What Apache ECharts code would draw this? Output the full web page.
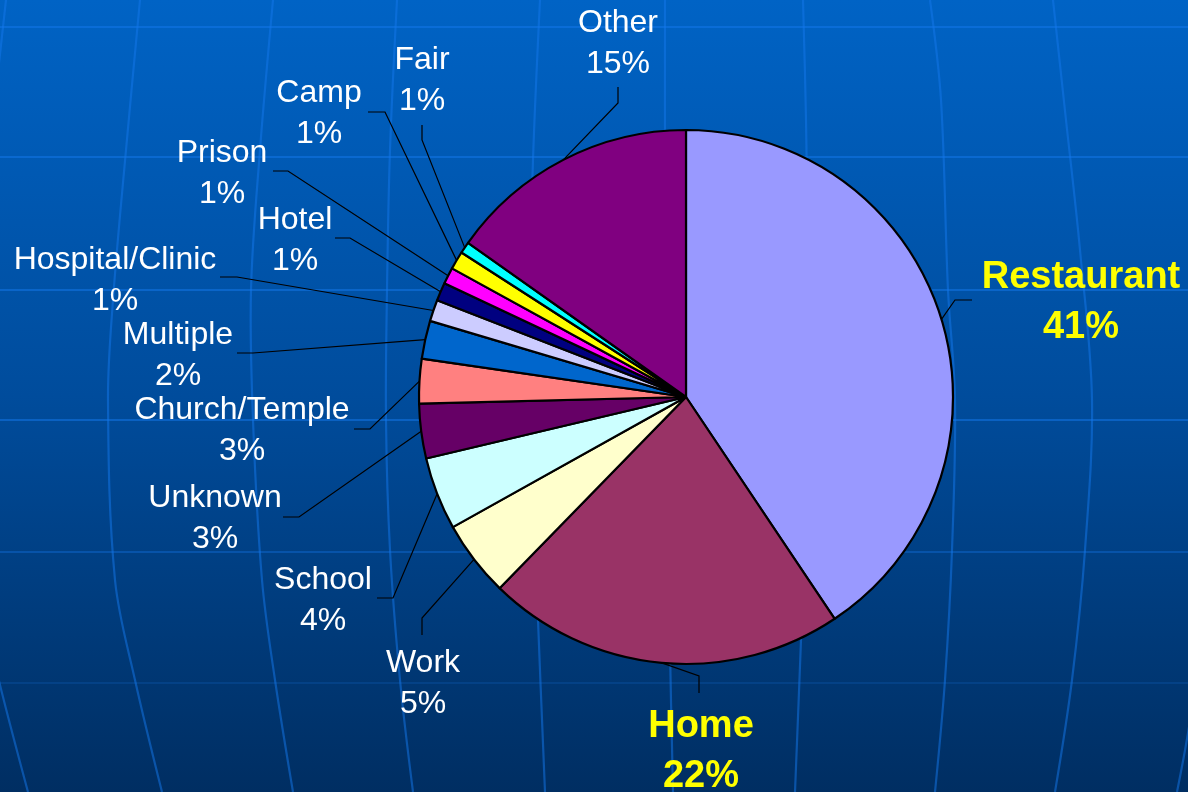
<!DOCTYPE html>
<html>
<head>
<meta charset="utf-8">
<script src="https://cdn.jsdelivr.net/npm/echarts@6/dist/echarts.min.js"></script>
<style>
html,body{margin:0;padding:0;background:#004c9c;}
#chart{width:1188px;height:792px;}
</style>
</head>
<body>
<div id="chart"></div>
<script>
// ---- data ----
const categories = ['Restaurant','Home','Work','School','Unknown','Church/Temple','Multiple','Hospital/Clinic','Hotel','Prison','Camp','Fair','Other'];
const shares = [40.6, 21.7, 4.6, 4.4, 3.3, 2.7, 2.3, 1.3, 1.1, 1.0, 1.1, 0.7, 15.2];
const sliceColors = ['#9999FF','#993366','#FFFFCC','#CCFFFF','#660066','#FF8080','#0066CC','#CCCCFF','#000080','#FF00FF','#FFFF00','#00FFFF','#800080'];
const highlighted = ['Restaurant','Home'];

// ---- label placement (label centre, leader bend, leader end) ----
const labelPlacement = {
  'Restaurant':      {label:[1081,303], bend:[955,300], end:[972,300]},
  'Home':            {label:[701,752],  bend:[699,676], end:[699,693]},
  'Work':            {label:[423,684],  bend:[422,618], end:[422,635]},
  'School':          {label:[323,601],  bend:[393,598], end:[377,598]},
  'Unknown':         {label:[215,519],  bend:[299,517], end:[283,517]},
  'Church/Temple':   {label:[242,431],  bend:[370,429], end:[354,429]},
  'Multiple':        {label:[178,356],  bend:[253,353], end:[237,353]},
  'Hospital/Clinic': {label:[115,281],  bend:[237,277], end:[220,277]},
  'Hotel':           {label:[295,241],  bend:[350,238], end:[335,238]},
  'Prison':          {label:[222,174],  bend:[288,171], end:[273,171]},
  'Camp':            {label:[319,114],  bend:[385,112], end:[368,112]},
  'Fair':            {label:[422,81],   bend:[422,140], end:[422,125]},
  'Other':           {label:[618,44],   bend:[618,103], end:[618,87]}
};

const W = 1188, H = 792;
const pieCenter = [686, 397];
const pieRadius = 267;

// ---- background decoration (globe grid) ----
const gridColor = 'rgba(20,120,235,0.5)';
const horizontals = [[27,1],[157,1],[290,1],[420,1],[552,0.7],[683,0.35]];
const meridians = [
  [[6,0],[-4,90]],
  [[-12,630],[0,685],[28,792]],
  [[140,0],[126,150],[113,300],[108,400],[115,580],[135,680],[162,792]],
  [[273,0],[260,150],[251,290],[253,420],[262,580],[275,680],[293,792]],
  [[397,0],[390,150],[387,290],[386,420],[390,550],[400,680],[413,792]],
  [[540,0],[533,160],[530,300],[532,450],[538,620],[545,792]],
  [[665,0],[665,150],[666,400],[670,650],[673,792]],
  [[803,0],[806,120],[808,300],[806,500],[801,640],[795,792]],
  [[930,0],[941,100],[948,290],[955,400],[952,550],[945,680],[935,792]],
  [[1053,0],[1066,120],[1080,250],[1092,400],[1085,550],[1072,680],[1055,792]],
  [[1225,400],[1205,620],[1188,733],[1177,792]]
];
const graphics = [];
horizontals.forEach(function(h){
  graphics.push({type:'line', silent:true, z:0, shape:{x1:0,y1:h[0],x2:W,y2:h[0]},
    style:{stroke:gridColor, lineWidth:2.2, opacity:h[1]}});
});
meridians.forEach(function(pts){
  graphics.push({type:'polyline', silent:true, z:0, shape:{points:pts, smooth:0.35},
    style:{stroke:gridColor, lineWidth:2.2, fill:null}});
});

// ---- build series data ----
const seriesData = categories.map(function(name, i){
  const item = {name:name, value:shares[i], itemStyle:{color:sliceColors[i]}};
  if (highlighted.indexOf(name) >= 0) {
    item.label = {color:'#FFFF00', fontWeight:'bold', fontSize:38, lineHeight:50};
  }
  return item;
});

// fallback: compute edge point at slice mid-angle from the data
const total = shares.reduce(function(a,b){return a+b;},0);
function edgePoint(idx){
  let cum = 0;
  for (let i=0;i<idx;i++) cum += shares[i];
  const mid = (cum + shares[idx]/2)/total*2*Math.PI;
  return [pieCenter[0] + pieRadius*Math.sin(mid), pieCenter[1] - pieRadius*Math.cos(mid)];
}

const chart = echarts.init(document.getElementById('chart'), null, {renderer:'canvas', width:W, height:H});
chart.setOption({
  animation:false,
  backgroundColor:{type:'linear', x:0, y:0, x2:0, y2:1,
    colorStops:[{offset:0,color:'#0063C5'},{offset:0.5,color:'#004C9C'},{offset:1,color:'#002E62'}]},
  graphic:{elements:graphics},
  series:[{
    type:'pie',
    z:5,
    center:pieCenter,
    radius:pieRadius,
    startAngle:90,
    clockwise:true,
    avoidLabelOverlap:false,
    percentPrecision:0,
    data:seriesData,
    itemStyle:{borderColor:'#000', borderWidth:2.2},
    emphasis:{disabled:true},
    label:{
      show:true,
      position:'outside',
      formatter:'{b}\n{d}%',
      color:'#FFFFFF',
      fontFamily:'Liberation Sans, Arial, sans-serif',
      fontSize:32,
      lineHeight:41,
      align:'center'
    },
    labelLine:{show:true, length:10, length2:10, smooth:false,
      lineStyle:{color:'#000', width:1.2}},
    labelLayout:function(params){
      const name = categories[params.dataIndex];
      const p = labelPlacement[name];
      let start = edgePoint(params.dataIndex);
      if (params.labelLinePoints && params.labelLinePoints[0]) {
        start = [params.labelLinePoints[0][0], params.labelLinePoints[0][1]];
      }
      return {
        x:p.label[0], y:p.label[1],
        align:'center', verticalAlign:'middle',
        labelLinePoints:[start, p.bend, p.end]
      };
    }
  }]
});
</script>
</body>
</html>
